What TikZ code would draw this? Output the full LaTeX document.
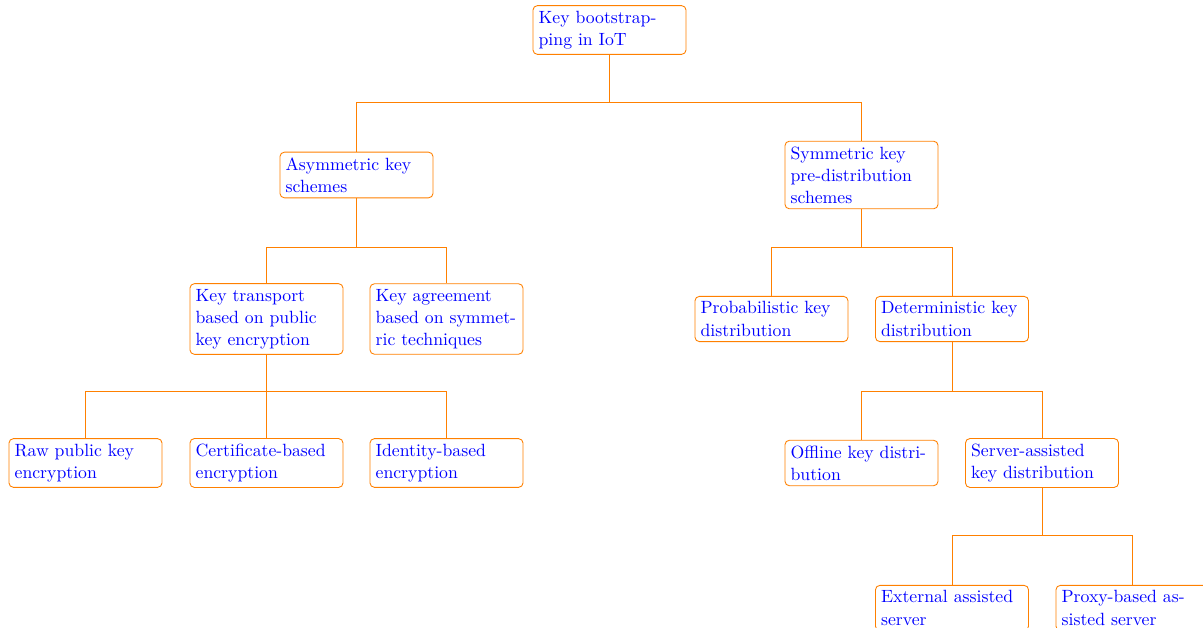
\documentclass[tikz,border=0pt]{standalone}
\usetikzlibrary{calc}
\definecolor{treeorange}{rgb}{1,0.5,0}
\begin{document}
\begin{tikzpicture}[x=0.5645pt,y=-0.5645pt,
  box/.style={draw=treeorange, rounded corners=2.5pt, text=blue,
    font={\fontsize{10}{12.5}\selectfont},
    text width=80pt, inner xsep=3.2pt, inner ysep=3pt, align=left,
    line width=0.5pt},
  fork/.style={draw=treeorange, line width=0.5pt,
    to path={(\tikztostart.south) -- ($(\tikztostart.center)+(0,72)$) -| (\tikztotarget.north)}}]
\clip (0,0) rectangle (1203,628);

% level 0
\node[box] (root) at (609.5,30) {Key bootstrapping in IoT};
% level 1
\node[box] (asym) at (356.5,175) {Asymmetric key schemes};
\node[box] (sym) at (861.5,175) {Symmetric key pre-distribution schemes};
% level 2
\node[box] (trans) at (266.5,319) {Key transport based on public key encryption};
\node[box] (agree) at (446.5,319) {Key agreement based on symmetric techniques};
\node[box] (prob) at (771.5,319) {Probabilistic key distribution};
\node[box] (det) at (952,319) {Deterministic key distribution};
% level 3
\node[box] (raw) at (85.5,463) {Raw public key encryption};
\node[box] (cert) at (266.5,463) {Certificate-based encryption};
\node[box] (ident) at (446.5,463) {Identity-based encryption};
\node[box] (offline) at (861.5,463) {Offline key distribution};
\node[box] (server) at (1042,463) {Server-assisted key distribution};
% level 4
\node[box] (ext) at (952,608) {External assisted server};
\node[box] (proxy) at (1132.5,608) {Proxy-based assisted server};

% forked connectors
\path (root) edge[fork] (asym) edge[fork] (sym);
\path (asym) edge[fork] (trans) edge[fork] (agree);
\path (sym) edge[fork] (prob) edge[fork] (det);
\path (trans) edge[fork] (raw) edge[fork] (cert) edge[fork] (ident);
\path (det) edge[fork] (offline) edge[fork] (server);
\path (server) edge[fork] (ext) edge[fork] (proxy);
\end{tikzpicture}
\end{document}
